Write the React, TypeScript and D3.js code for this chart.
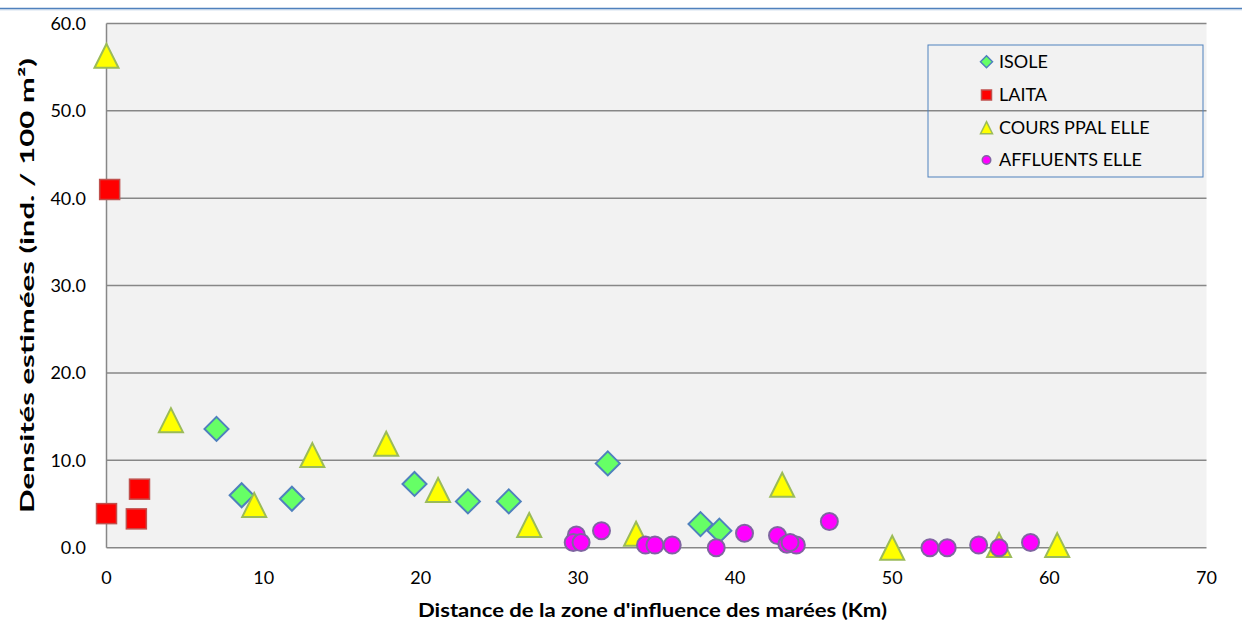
import React from "react";
import * as d3 from "d3";

const seriesNames = ["ISOLE", "LAITA", "COURS PPAL ELLE", "AFFLUENTS ELLE"];

const isoleX = [7.0, 8.6, 11.8, 19.6, 23.0, 25.6, 31.9, 37.8, 39.0];
const isoleY = [13.6, 6.0, 5.6, 7.3, 5.3, 5.3, 9.65, 2.7, 1.95];

const laitaX = [0.0, 0.2, 1.9, 2.1];
const laitaY = [3.9, 41.0, 3.3, 6.7];

const coursX = [0.0, 4.1, 9.4, 13.1, 17.8, 21.1, 26.9, 33.7, 43.0, 50.0, 56.8, 60.5];
const coursY = [56.3, 14.6, 4.9, 10.6, 11.9, 6.6, 2.6, 1.6, 7.2, 0.0, 0.3, 0.3];

const afflX = [29.9, 29.7, 30.2, 31.5, 34.3, 34.9, 36.0, 38.8, 40.6, 42.7, 43.3, 43.9, 43.5, 46.0, 52.4, 53.5, 55.5, 56.8, 58.8];
const afflY = [1.45, 0.6, 0.6, 1.95, 0.3, 0.3, 0.3, 0.0, 1.65, 1.4, 0.4, 0.3, 0.6, 3.0, 0.0, 0.0, 0.3, 0.0, 0.6];

const xTicks = [0, 10, 20, 30, 40, 50, 60, 70];
const yTicks = [0, 10, 20, 30, 40, 50, 60];

const xTitle = "Distance de la zone d'influence des marées (Km)";
const yTitle = "Densités estimées (ind. / 100 m²)";

const FONT = "Lato, 'Open Sans', sans-serif";

type Kind = "diamond" | "square" | "triangle" | "circle";

function Marker({ kind, x, y, s = 1 }: { kind: Kind; x: number; y: number; s?: number }) {
  const sw = s < 1 ? 1.5 : 2;
  if (kind === "diamond") {
    const h = 12 * s;
    return (
      <path
        d={`M${x},${y - h}L${x + h},${y}L${x},${y + h}L${x - h},${y}Z`}
        fill="#66ff66"
        stroke="#4f81bd"
        strokeWidth={sw}
      />
    );
  }
  if (kind === "square") {
    const h = 10 * s;
    return <rect x={x - h} y={y - h} width={2 * h} height={2 * h} fill="#ff0000" stroke="#c0504d" strokeWidth={1.5} />;
  }
  if (kind === "triangle") {
    const w = 12 * s;
    const h = 12 * s;
    return (
      <path
        d={`M${x},${y - h}L${x + w},${y + h}L${x - w},${y + h}Z`}
        fill="#ffff00"
        stroke="#9bbb59"
        strokeWidth={sw}
      />
    );
  }
  return <circle cx={x} cy={y} r={8.5 * s} fill="#ff00ff" stroke="#8064a2" strokeWidth={sw} />;
}

export default function App() {
  const W = 1242;
  const H = 622;
  const left = 106.5;
  const right = 1206.5;
  const top = 23.5;
  const bottom = 547.7;

  const x = d3.scaleLinear().domain([0, 70]).range([left, right]);
  const y = d3.scaleLinear().domain([0, 60]).range([bottom, top]);
  const fmt = d3.format(".1f");

  const series: { kind: Kind; xs: number[]; ys: number[] }[] = [
    { kind: "diamond", xs: isoleX, ys: isoleY },
    { kind: "square", xs: laitaX, ys: laitaY },
    { kind: "triangle", xs: coursX, ys: coursY },
    { kind: "circle", xs: afflX, ys: afflY },
  ];

  const legendX = 928;
  const legendY = 45;
  const legendW = 275;
  const legendH = 132;
  const legendRows = [61.7, 95, 127.7, 160];

  return (
    <>
      <style>{"body{margin:0}"}</style>
      <svg width={W} height={H} style={{ display: "block", background: "#ffffff" }} fontFamily={FONT}>
        <line x1={0} x2={W} y1={8.5} y2={8.5} stroke="#4f81bd" strokeWidth={1.5} />
        <line x1={0} x2={W} y1={9.8} y2={9.8} stroke="#b8cce4" strokeWidth={1} />
        <rect x={left} y={top} width={right - left} height={bottom - top} fill="#f2f2f2" />
        {yTicks.map((t) => (
          <line key={"g" + t} x1={left} x2={right} y1={y(t)} y2={y(t)} stroke="#878787" strokeWidth={1.5} />
        ))}
        <line x1={left} x2={left} y1={top} y2={bottom} stroke="#878787" strokeWidth={1.5} />
        {yTicks.map((t) => (
          <text key={"yl" + t} x={86} y={y(t) + 6.5} textAnchor="end" fontSize={18} fill="#000">
            {fmt(t)}
          </text>
        ))}
        {xTicks.map((t) => (
          <text key={"xl" + t} x={x(t)} y={583.5} textAnchor="middle" fontSize={18} fill="#000">
            {t}
          </text>
        ))}
        <text
          x={(left + right) / 2 - 4}
          y={617}
          textAnchor="middle"
          fontSize={19.5}
          fontWeight="bold"
          fill="#000"
          textLength={469}
          lengthAdjust="spacingAndGlyphs"
        >
          {xTitle}
        </text>
        <text
          transform={`translate(34,${(top + bottom) / 2}) rotate(-90)`}
          textAnchor="middle"
          fontSize={19.5}
          fontWeight="bold"
          fill="#000"
          textLength={455}
          lengthAdjust="spacingAndGlyphs"
        >
          {yTitle}
        </text>
        {series.map((s, si) =>
          s.xs.map((xv, i) => <Marker key={si + "-" + i} kind={s.kind} x={x(xv)} y={y(s.ys[i])} />)
        )}
        <rect x={legendX} y={legendY} width={legendW} height={legendH} fill="none" stroke="#4f81bd" strokeWidth={1} />
        {series.map((s, i) => (
          <g key={"lg" + i}>
            <Marker kind={s.kind} x={986.5} y={legendRows[i]} s={0.5} />
            <text x={999} y={legendRows[i] + 6} fontSize={18} fill="#000">
              {seriesNames[i]}
            </text>
          </g>
        ))}
      </svg>
    </>
  );
}
